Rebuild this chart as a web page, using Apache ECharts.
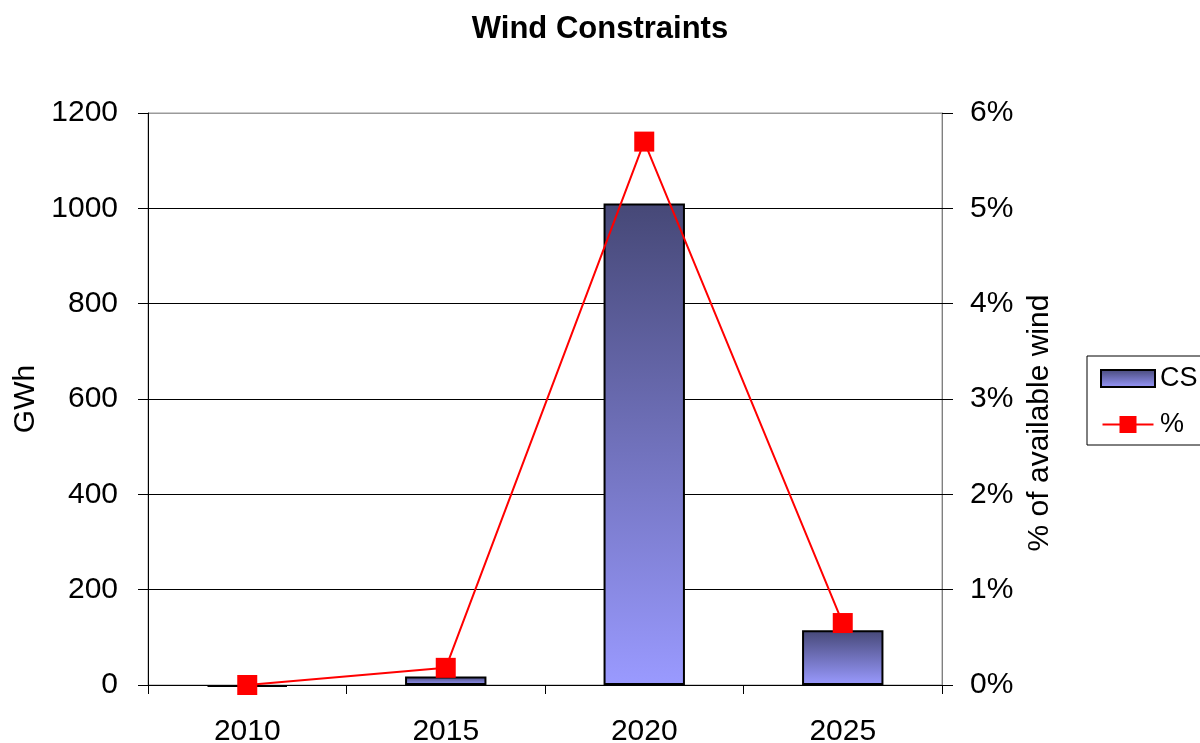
<!DOCTYPE html>
<html>
<head>
<meta charset="utf-8">
<title>Wind Constraints</title>
<script src="https://cdn.jsdelivr.net/npm/echarts@6/dist/echarts.min.js"></script>
<style>
  html, body { margin: 0; padding: 0; background: #fff; }
  #chart { width: 1200px; height: 743px; }
</style>
</head>
<body>
<div id="chart"></div>
<script>
// Years on the category axis
const years = ['2010', '2015', '2020', '2025'];
// Constrained-off wind energy, GWh
const csGWh = [-4, 18, 1010, 115];
// Constraint as a share of available wind, %
const pctAvailable = [0.0, 0.18, 5.70, 0.65];
// Axis scales
const gwhTicks = { min: 0, max: 1200, interval: 200 };
const pctTicks = { min: 0, max: 6, interval: 1 };

const FONT = '"Liberation Sans", Arial, sans-serif';

const barFill = new echarts.graphic.LinearGradient(0, 0, 0, 1, [
  { offset: 0, color: '#464877' },
  { offset: 1, color: '#9a9aff' }
]);

// Legend key for the line: a thin stroke with a square marker in the middle
const lineKeyIcon = 'path://M0,8L54,8L54,10L0,10Z M18,0L36,0L36,18L18,18Z';

const chart = echarts.init(document.getElementById('chart'), null, { renderer: 'canvas' });

chart.setOption({
  animation: false,
  backgroundColor: '#ffffff',
  textStyle: { fontFamily: FONT, color: '#000' },
  title: {
    text: 'Wind Constraints',
    left: 'center',
    top: 9,
    textStyle: { fontFamily: FONT, fontSize: 31, fontWeight: 'bold', color: '#000' }
  },
  legend: {
    orient: 'vertical',
    left: 1087,
    top: 356,
    padding: [9, 200, 7, 13],
    itemGap: 19,
    itemWidth: 54,
    itemHeight: 17,
    borderColor: '#000',
    borderWidth: 1,
    textStyle: { fontFamily: FONT, fontSize: 27, color: '#000', lineHeight: 26 },
    data: [
      { name: 'CS', icon: 'rect' },
      { name: '%', icon: lineKeyIcon, itemStyle: { color: '#ff0000', borderWidth: 0 } }
    ]
  },
  grid: {
    left: 148,
    right: 258,
    top: 113,
    bottom: 58,
    outerBoundsMode: 'none',
    containLabel: false,
    show: true,
    borderColor: '#9a9a9a',
    borderWidth: 1
  },
  xAxis: {
    type: 'category',
    data: years,
    boundaryGap: true,
    axisLine: { lineStyle: { color: '#000', width: 1 } },
    axisTick: { show: true, length: 9, alignWithLabel: false, lineStyle: { color: '#000' } },
    axisLabel: { fontFamily: FONT, fontSize: 30, color: '#000', margin: 32 }
  },
  yAxis: [
    {
      type: 'value',
      min: gwhTicks.min,
      max: gwhTicks.max,
      interval: gwhTicks.interval,
      name: 'GWh',
      nameLocation: 'middle',
      nameGap: 103,
      nameTextStyle: { fontFamily: FONT, fontSize: 30, color: '#000' },
      axisLine: { show: true, lineStyle: { color: '#000' } },
      axisTick: { show: true, length: 10, lineStyle: { color: '#000' } },
      axisLabel: {
        fontFamily: FONT, fontSize: 30, color: '#000', margin: 30,
        formatter: (v) => String(v)
      },
      splitLine: {
        show: true,
        lineStyle: { color: ['#000', '#000', '#000', '#000', '#000', '#000', '#9a9a9a'], width: 1 }
      }
    },
    {
      type: 'value',
      position: 'right',
      min: pctTicks.min,
      max: pctTicks.max,
      interval: pctTicks.interval,
      name: '% of available wind',
      nameLocation: 'middle',
      nameGap: 80,
      nameTextStyle: { fontFamily: FONT, fontSize: 30, color: '#000', padding: [0, 48, 0, 0] },
      axisLine: { show: true, lineStyle: { color: '#808080' } },
      axisTick: { show: true, length: 11, lineStyle: { color: '#000' } },
      axisLabel: { fontFamily: FONT, fontSize: 30, color: '#000', margin: 28, formatter: '{value}%' },
      splitLine: { show: false }
    }
  ],
  series: [
    {
      name: 'CS',
      type: 'bar',
      yAxisIndex: 0,
      data: csGWh,
      barWidth: '41%',
      clip: false,
      itemStyle: { color: barFill, borderColor: '#000', borderWidth: 2 },
      z: 2
    },
    {
      name: '%',
      type: 'line',
      yAxisIndex: 1,
      data: pctAvailable,
      symbol: 'rect',
      symbolSize: 20,
      lineStyle: { color: '#ff0000', width: 2 },
      itemStyle: { color: '#ff0000' },
      z: 3
    }
  ]
});
</script>
</body>
</html>
